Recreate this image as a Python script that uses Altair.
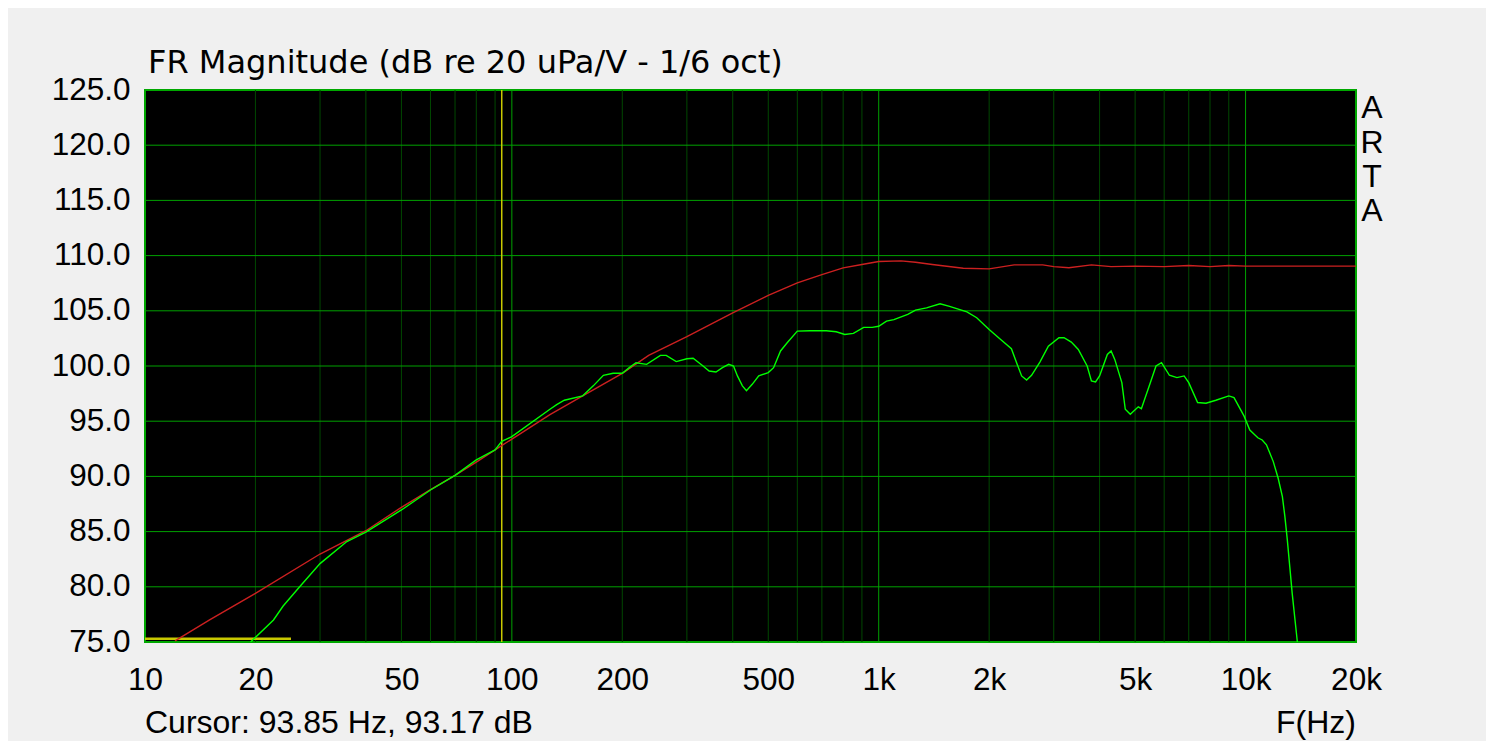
import altair as alt
import pandas as pd

W, H = 1211, 552

# ---- data ----
red_f = [12.07, 15, 20, 30, 40, 50, 60, 70, 80, 90, 127, 156, 200, 236, 300, 400, 500, 600, 700, 800,
         900, 1000, 1150, 1260, 1400, 1700, 2000, 2340, 2800, 3000, 3300, 3800, 4300, 5000, 6000, 7000,
         8000, 9000, 10000, 20000]
red_db = [75.1, 77.0, 79.4, 82.97, 85.08, 87.2, 88.8, 90.1, 91.3, 92.4, 95.6, 97.3, 99.33, 100.96, 102.65,
          104.82, 106.39, 107.53, 108.28, 108.89, 109.19, 109.46, 109.52, 109.4, 109.19, 108.85, 108.8,
          109.16, 109.16, 109.0, 108.9, 109.16, 109.0, 109.05, 109.0, 109.1, 109.0, 109.1, 109.05, 109.05]

green_f = [19.4, 22.4, 23.8, 26.4, 30, 35.5, 40, 50, 60, 70, 80, 90, 93.85, 100, 127, 132.5, 139, 156,
           166.7, 177.6, 188.8, 200, 209, 218, 233, 254, 263.5, 280.6, 300, 312, 332, 345, 360, 375, 390,
           402, 412, 425, 436, 452, 471, 500, 517, 540, 563, 600, 649, 720, 766, 808, 853, 910, 960, 1000,
           1050, 1100, 1200, 1260, 1350, 1470, 1560, 1740, 1850, 2000, 2150, 2300, 2376, 2452, 2530, 2610,
           2750, 2900, 3100, 3200, 3350, 3500, 3700, 3800, 3900, 4000, 4200, 4300, 4400, 4600, 4700, 4850,
           5100, 5200, 5500, 5700, 5900, 6200, 6500, 6800, 7000, 7400, 7800, 8300, 9000, 9300, 9900,
           10270, 10800, 11100, 11400, 11650, 11900, 12270, 12600, 12800, 13000, 13200, 13400, 13700,
           13820, 13900]
green_db = [75.0, 77.0, 78.26, 80.0, 82.1, 84.1, 84.96, 86.96, 88.77, 90.1, 91.5, 92.4, 93.17, 93.6, 96.08,
            96.5, 96.9, 97.3, 98.2, 99.16, 99.34, 99.34, 99.85, 100.3, 100.15, 100.96, 100.96, 100.4,
            100.66, 100.7, 100.0, 99.55, 99.46, 99.85, 100.15, 100.0, 99.1, 98.2, 97.77, 98.34, 99.1,
            99.4, 99.85, 101.36, 102.1, 103.16, 103.19, 103.19, 103.1, 102.86, 102.95, 103.5, 103.5,
            103.6, 104.07, 104.2, 104.67, 105.06, 105.27, 105.63, 105.4, 104.9, 104.37, 103.3, 102.4,
            101.57, 100.3, 99.1, 98.73, 99.16, 100.36, 101.8, 102.56, 102.56, 102.17, 101.5, 100.0,
            98.64, 98.55, 99.1, 101.05, 101.36, 100.6, 98.49, 96.08, 95.63, 96.3, 96.14, 98.49, 100.0,
            100.3, 99.16, 98.95, 99.1, 98.49, 96.69, 96.63, 96.9, 97.29, 97.14, 95.48, 94.2, 93.5, 93.3,
            92.86, 92.1, 91.34, 89.83, 88.17, 86.36, 84.2, 81.8, 79.4, 76.4, 75.2, 74.5]

minor_f = [20, 30, 40, 50, 60, 70, 80, 90, 200, 300, 400, 500, 600, 700, 800, 900,
           2000, 3000, 4000, 5000, 6000, 7000, 8000, 9000]
major_f = [100, 1000, 10000]
grid_db = [80, 85, 90, 95, 100, 105, 110, 115, 120]
x_ticks = [10, 20, 50, 100, 200, 500, 1000, 2000, 5000, 10000, 20000]
y_ticks = [75, 80, 85, 90, 95, 100, 105, 110, 115, 120, 125]
cursor_f = [93.85]
marker_f = [10, 25]
marker_db = [75.3, 75.3]

title_text = "FR Magnitude (dB re 20 uPa/V - 1/6 oct)"
cursor_text = "Cursor: 93.85 Hz, 93.17 dB"
xlabel_text = "F(Hz)"
side_text = "A\nR\nT\nA"

FONT = "Liberation Sans"

# ---- scales / axes ----
xs = alt.Scale(type="log", domain=[10, 20000], nice=False)
ys = alt.Scale(domain=[75, 125], nice=False, zero=False)
x_axis = alt.Axis(values=x_ticks, labelExpr="datum.value >= 1000 ? (datum.value/1000) + 'k' : datum.value",
                  title=None, grid=False, domain=False, ticks=False, labelPadding=22,
                  labelFontSize=31.5, labelColor="black", labelFlush=False, labelOverlap=False,
                  labelFont=FONT)
y_axis = alt.Axis(values=y_ticks, format=".1f", title=None, grid=False, domain=False, ticks=False,
                  labelPadding=15, labelFontSize=31.5, labelColor="black", labelFlush=False,
                  labelOverlap=False, labelFont=FONT)

X = lambda f: alt.X(f"{f}:Q", scale=xs, axis=x_axis)
Y = lambda f: alt.Y(f"{f}:Q", scale=ys, axis=y_axis)

red_df = pd.DataFrame({"f": red_f, "db": red_db})
green_df = pd.DataFrame({"f": green_f, "db": green_db})

minor = alt.Chart(pd.DataFrame({"f": minor_f})).mark_rule(color="#004800", strokeWidth=1).encode(x=X("f"))
major = alt.Chart(pd.DataFrame({"f": major_f})).mark_rule(color="#00a000", strokeWidth=1).encode(x=X("f"))
hgrid = alt.Chart(pd.DataFrame({"db": grid_db})).mark_rule(color="#00a000", strokeWidth=1).encode(y=Y("db"))

cursor = alt.Chart(pd.DataFrame({"f": cursor_f})).mark_rule(color="#c8c800", strokeWidth=1.5).encode(x=X("f"))
marker = alt.Chart(pd.DataFrame({"f": marker_f, "db": marker_db})).mark_line(
    color="#c8c800", strokeWidth=2.5).encode(x=X("f"), y=Y("db"))

red = alt.Chart(red_df).mark_line(color="#cc2020", strokeWidth=1.4, clip=True).encode(
    x=X("f"), y=Y("db"), order="f:Q")
green = alt.Chart(green_df).mark_line(color="#00ff00", strokeWidth=1.4, clip=True).encode(
    x=X("f"), y=Y("db"), order="f:Q")

one = pd.DataFrame({"k": [0]})
txt = dict(font=FONT, fontSize=32, color="black", baseline="alphabetic")
title = alt.Chart(one).mark_text(text=title_text, align="left", font="DejaVu Sans", fontSize=32,
                                 color="black", baseline="alphabetic").encode(
    x=alt.value(3), y=alt.value(-16.7))
cur = alt.Chart(one).mark_text(text=cursor_text, align="left", **txt).encode(
    x=alt.value(0), y=alt.value(643.3))
xl = alt.Chart(one).mark_text(text=xlabel_text, align="right", **txt).encode(
    x=alt.value(W), y=alt.value(643.3))
arta = alt.Chart(one).mark_text(text=side_text, align="center", lineBreak="\n", lineHeight=34.3,
                                **txt).encode(x=alt.value(1227), y=alt.value(28.3))

chart = alt.layer(minor, major, hgrid, cursor, marker, red, green, title, cur, xl, arta).properties(
    width=W, height=H,
    autosize=alt.AutoSizeParams(type="none"),
    padding={"left": 137, "top": 82, "right": 130, "bottom": 99},
    background="#f0f0f0",
).configure(font=FONT).configure_view(fill="black", stroke="#00a800", strokeWidth=2)

chart.save("out.html", embed_options={"renderer": "svg", "actions": False})
